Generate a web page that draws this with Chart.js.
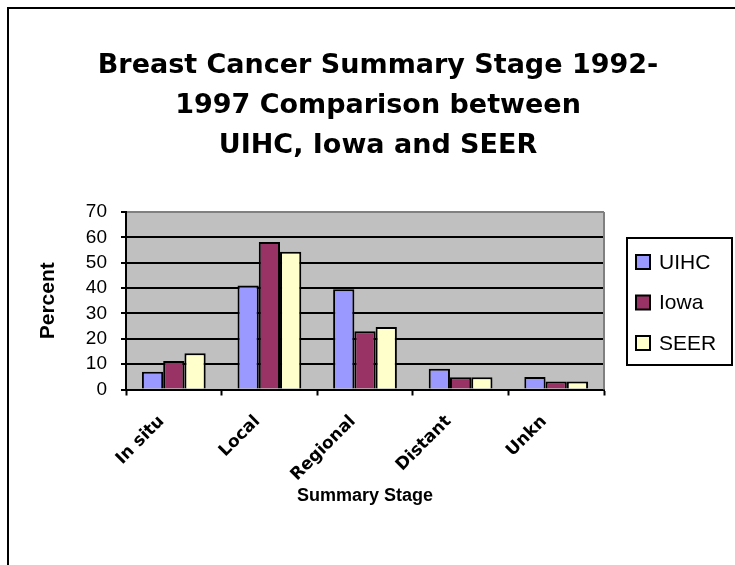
<!DOCTYPE html>
<html>
<head>
<meta charset="utf-8">
<script src="https://cdn.jsdelivr.net/npm/chart.js@4.4.0/dist/chart.umd.min.js"></script>
<style>
  html, body { margin: 0; padding: 0; background: #fff; }
  #wrap { position: relative; width: 735px; height: 565px; overflow: hidden; }
  #frame { position: absolute; left: 7px; top: 7px; width: 760px; height: 600px; border: 2px solid #000; box-sizing: border-box; }
  canvas { position: absolute; left: 0; top: 0; }
</style>
</head>
<body>
<div id="wrap">
  <div id="frame"></div>
  <canvas id="chart" width="735" height="565"></canvas>
</div>
<script>
// --------------- Data ---------------
const stages = ["In situ", "Local", "Regional", "Distant", "Unkn"];
const uihc = [7, 41, 39.5, 8.2, 4.9];
const iowa = [11.2, 58.2, 23, 4.8, 3.2];
const seer = [14.3, 54.3, 24.6, 4.8, 3.2];
const yTicks = [0, 10, 20, 30, 40, 50, 60, 70];

const titleLines = ["Breast Cancer Summary Stage 1992-", "1997 Comparison between", "UIHC, Iowa and SEER"];

const FONT = "'Liberation Sans', Arial, sans-serif";
const BOTTOM_PAD = 58;

// --------------- Plugins ---------------
// gray plot area + right border
const plotBg = {
  id: 'plotBg',
  beforeDraw(chart) {
    const { ctx, chartArea: a } = chart;
    ctx.save();
    ctx.fillStyle = '#C0C0C0';
    ctx.fillRect(a.left, a.top, a.right - a.left, a.bottom - a.top);
    ctx.restore();
  },
  afterDraw(chart) {
    const { ctx, chartArea: a } = chart;
    ctx.save();
    ctx.strokeStyle = '#808080';
    ctx.lineWidth = 2;
    ctx.beginPath();
    ctx.moveTo(a.right, a.top);
    ctx.lineTo(a.right, a.bottom);
    ctx.stroke();
    ctx.restore();
  }
};

// title drawn centered over the chart frame
const bigTitle = {
  id: 'bigTitle',
  afterDraw(chart) {
    const ctx = chart.ctx;
    ctx.save();
    ctx.fillStyle = '#000';
    ctx.font = "bold 27px 'DejaVu Sans', sans-serif";
    ctx.textAlign = 'center';
    ctx.textBaseline = 'alphabetic';
    titleLines.forEach((t, i) => ctx.fillText(t, 378, 73 + i * 40));
    ctx.restore();
  }
};

// boxed legend on the right
const boxLegend = {
  id: 'boxLegend',
  afterDraw(chart) {
    const ctx = chart.ctx;
    ctx.save();
    ctx.strokeStyle = '#000';
    ctx.lineWidth = 2;
    ctx.strokeRect(627, 238, 105, 127);
    chart.data.datasets.forEach((ds, i) => {
      const y = 262 + i * 40.5;
      ctx.fillStyle = ds.backgroundColor;
      ctx.fillRect(636, y - 7, 14, 14);
      ctx.lineWidth = 2;
      ctx.strokeRect(636, y - 7, 14, 14);
      ctx.fillStyle = '#000';
      ctx.font = "21px " + FONT;
      ctx.textBaseline = 'middle';
      ctx.fillText(ds.label, 659, y + 1);
    });
    ctx.restore();
  }
};

// --------------- Chart ---------------
const ctx = document.getElementById('chart').getContext('2d');
new Chart(ctx, {
  type: 'bar',
  data: {
    labels: stages,
    datasets: [
      { label: 'UIHC', data: uihc, backgroundColor: '#9999FF' },
      { label: 'Iowa', data: iowa, backgroundColor: '#993366' },
      { label: 'SEER', data: seer, backgroundColor: '#FFFFCC' }
    ].map(d => Object.assign(d, { borderColor: '#000', borderWidth: 2, borderSkipped: 'bottom' }))
  },
  options: {
    responsive: false,
    animation: false,
    devicePixelRatio: 1,
    layout: { padding: { left: 8, right: 131, top: 212, bottom: BOTTOM_PAD } },
    datasets: { bar: { categoryPercentage: 0.667, barPercentage: 1 } },
    plugins: {
      legend: { display: false },
      tooltip: { enabled: false }
    },
    scales: {
      x: {
        afterFit(scale) { scale.height = 565 - BOTTOM_PAD - 389.5; },
        grid: { offset: true, drawOnChartArea: false, tickLength: 6, tickColor: '#000', tickWidth: 2 },
        border: { color: '#000', width: 2 },
        ticks: {
          minRotation: 45, maxRotation: 45, padding: 16, labelOffset: -12,
          color: '#000', font: { family: "'DejaVu Sans', sans-serif", size: 17, weight: 'bold' }
        },
        title: {
          display: true, text: 'Summary Stage', color: '#000',
          font: { family: FONT, size: 18, weight: 'bold' },
          padding: { top: 0, bottom: 0 }
        }
      },
      y: {
        min: 0, max: 70,
        afterFit(scale) { scale.width = 126 - 8; },
        afterBuildTicks(scale) { scale.ticks = yTicks.map(v => ({ value: v })); },
        grid: {
          color: c => (c.tick.value === 70 ? '#808080' : '#000'),
          lineWidth: 2, tickLength: 5, tickColor: '#000', tickWidth: 2
        },
        border: { color: '#000', width: 2 },
        ticks: { autoSkip: false, padding: 14, color: '#000', font: { family: FONT, size: 19 } },
        title: {
          display: true, text: 'Percent', color: '#000',
          font: { family: FONT, size: 21, weight: 'bold' },
          padding: { top: 28, bottom: 0 }
        }
      }
    }
  },
  plugins: [plotBg, bigTitle, boxLegend]
});
</script>
</body>
</html>
